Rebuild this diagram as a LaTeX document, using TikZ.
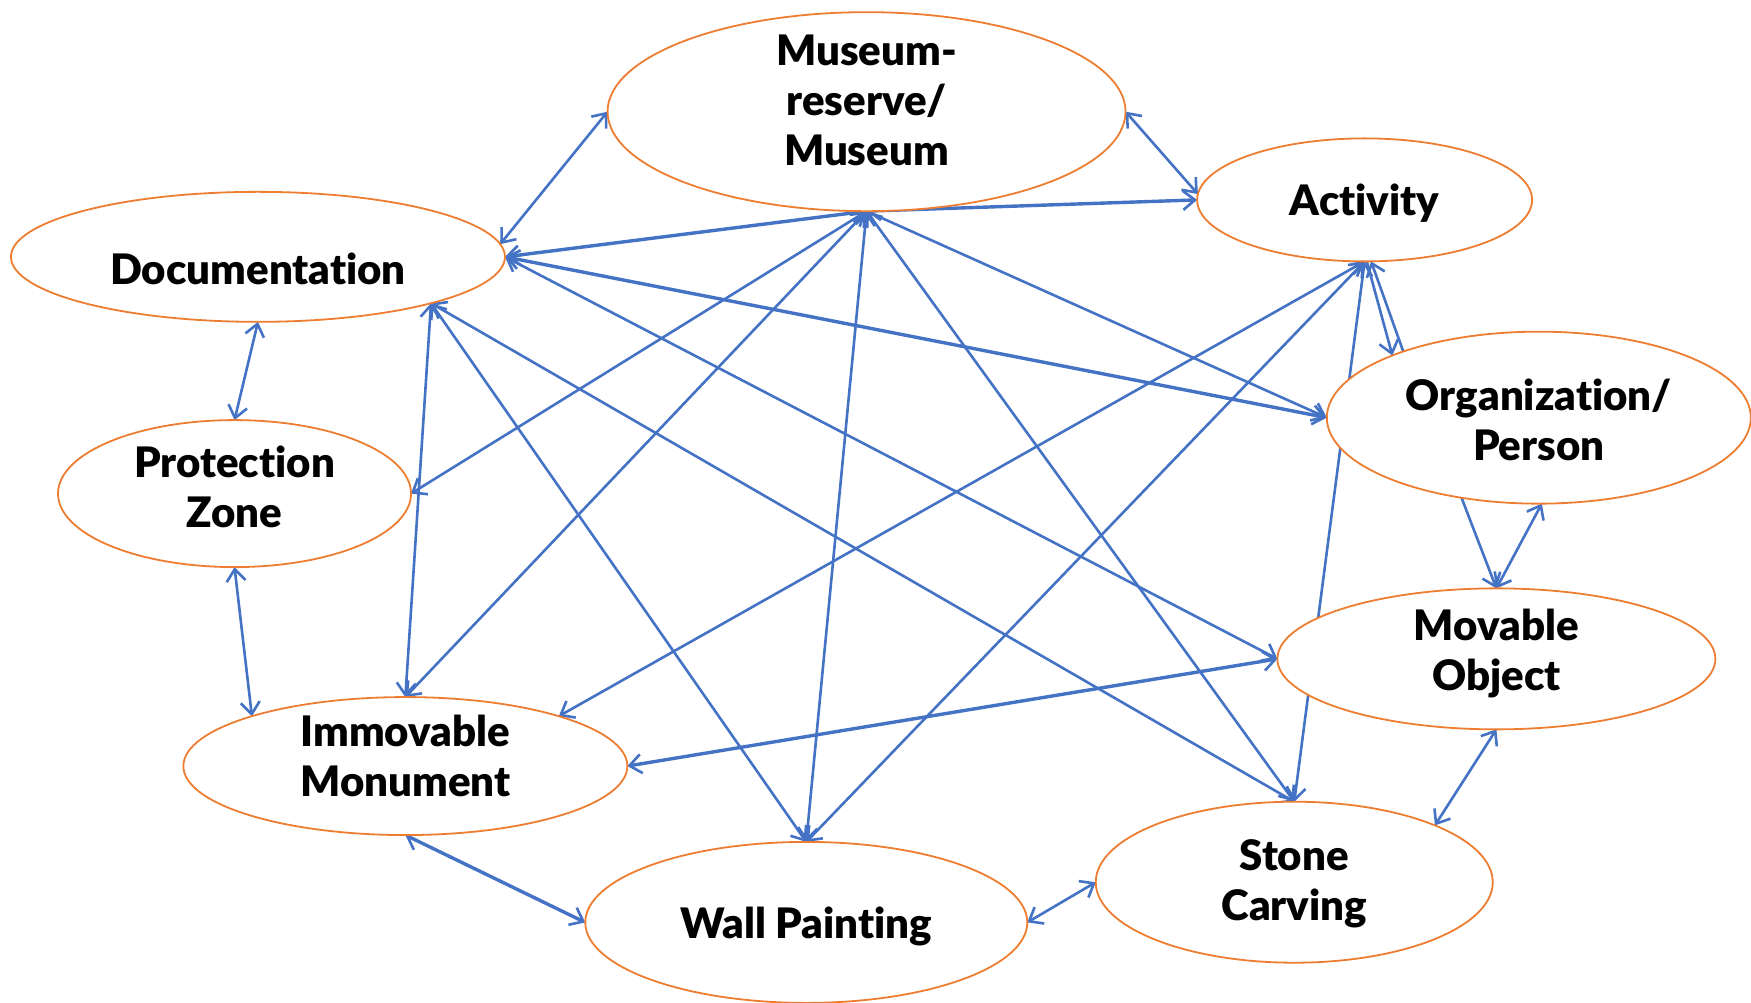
\documentclass[tikz,border=0pt]{standalone}
\usepackage{fontspec}
\setmainfont{Lato}[Ligatures={NoCommon}, BoldFont={Lato Black}]
\usetikzlibrary{shapes.geometric,arrows.meta,backgrounds}
\definecolor{eorange}{HTML}{ED7D31}
\definecolor{eblue}{HTML}{4472C4}
\newcommand\entlbl[2]{\raisebox{#1}[0pt][0pt]{\begin{tabular}{@{}c@{}}#2\end{tabular}}}
\tikzset{
  ent/.style={ellipse, draw=eorange, line width=1.8pt, fill=white, inner sep=0pt, outer sep=0pt,
    align=center, font=\fontsize{42}{50}\selectfont\bfseries},
  barb/.tip={Straight Barb[length=12pt,width=19pt,line width=2.6pt]},
  link/.style={draw=eblue, line width=2.6pt, barb-barb},
  linkto/.style={draw=eblue, line width=2.6pt, -barb},
  thick link/.style={link, line width=3.4pt},
}
\begin{document}
\begin{tikzpicture}[x=1.1167pt, y=-1.1167pt]
\useasboundingbox (0,0) rectangle (1568,898);
\node[ent, minimum width=518pt, minimum height=199pt] (mus) at (776,100) {\entlbl{0pt}{Museum-\\reserve/\\Museum}};
\node[ent, minimum width=335pt, minimum height=123pt] (act) at (1222,179) {\entlbl{-12pt}{Activity}};
\node[ent, minimum width=494pt, minimum height=130pt] (doc) at (231,230) {\entlbl{-24pt}{Documentation}};
\node[ent, minimum width=424pt, minimum height=172pt] (org) at (1378,374) {\entlbl{-14pt}{Organization/\\Person}};
\node[ent, minimum width=353pt, minimum height=147pt] (pz) at (210,442) {\entlbl{-5pt}{Protection\\Zone}};
\node[ent, minimum width=438pt, minimum height=141pt] (mov) at (1340,590) {\entlbl{-3pt}{Movable\\Object}};
\node[ent, minimum width=444pt, minimum height=138pt] (imm) at (363,686) {\entlbl{-2pt}{Immovable\\Monument}};
\node[ent, minimum width=397pt, minimum height=161pt] (sc) at (1159,790) {\entlbl{-10pt}{Stone\\Carving}};
\node[ent, minimum width=442pt, minimum height=161pt] (wp) at (722,826) {\entlbl{-12pt}{Wall Painting}};
\begin{pgfonlayer}{background}
\fill[white] (0,0) rectangle (1568,898);
\draw[link] (doc.3) -- (mus.west);
\draw[link] (mus.east) -- (act.178);
\draw[thick link] (mus.south) -- (doc.east);
\draw[thick link] (mus.south) -- (act.west);
\draw[link] (mus.south) -- (pz.east);
\draw[link] (mus.south) -- (imm.north);
\draw[link] (mus.south) -- (wp.north);
\draw[link] (mus.south) -- (sc.north);
\draw[link] (mus.south) -- (org.west);
\draw[link] (act.south) -- (imm.18);
\draw[link] (act.south) -- (wp.north);
\draw[link] (act.south) -- (sc.north);
\draw[linkto] (act.-88) -- (org.157);
\draw[linkto] (org.154) -- (act.-84);
\draw[thick link] (doc.east) -- (org.west);
\draw[link] (doc.east) -- (mov.west);
\draw[link] (doc.-15) -- (imm.north);
\draw[link] (doc.-15) -- (wp.north);
\draw[link] (doc.-15) -- (sc.north);
\draw[link] (doc.south) -- (pz.north);
\draw[link] (pz.south) -- (imm.162);
\draw[thick link] (imm.east) -- (mov.west);
\draw[thick link] (imm.south) -- (wp.west);
\draw[link] (wp.east) -- (sc.west);
\draw[link] (sc.22) -- (mov.south);
\draw[linkto] (org.-134) -- (mov.north);
\draw[link] (mov.north) -- (org.-88);
\end{pgfonlayer}
\end{tikzpicture}
\end{document}
